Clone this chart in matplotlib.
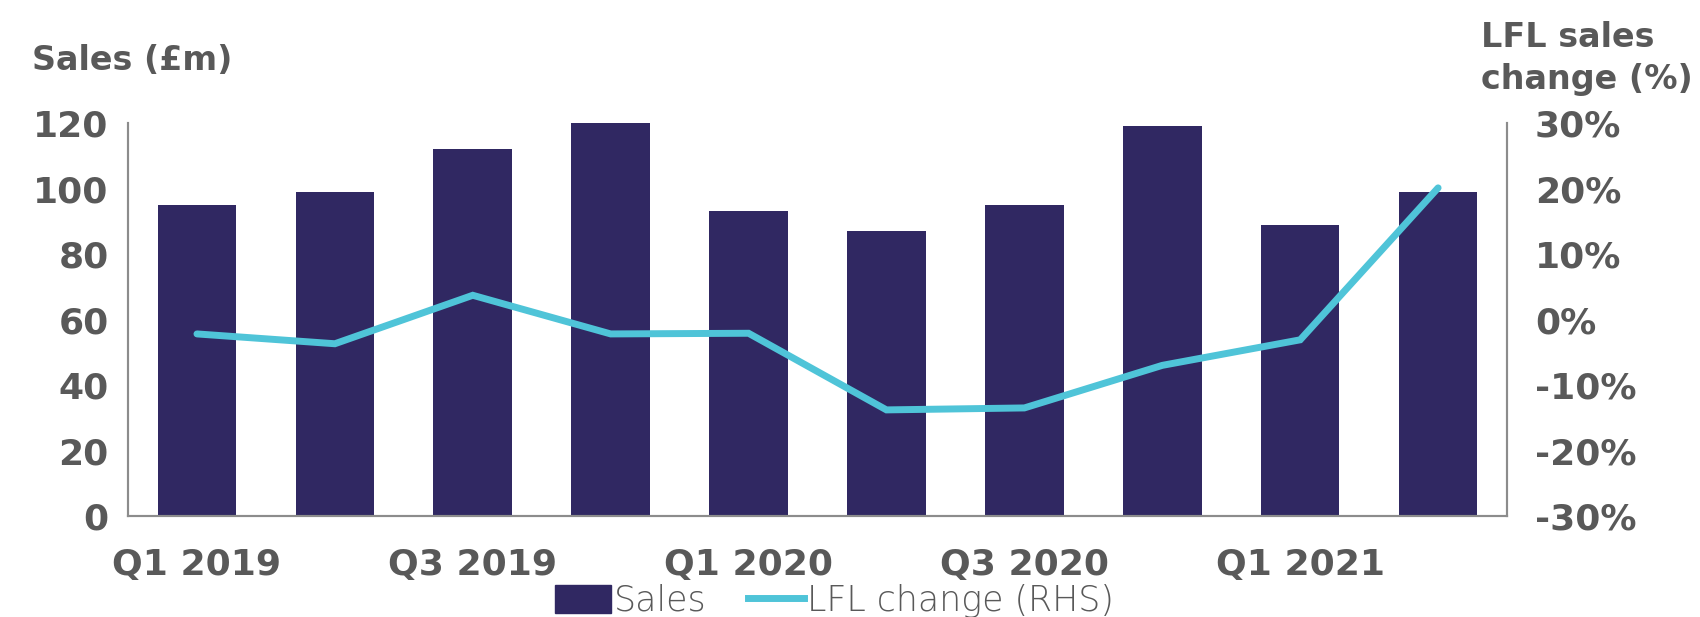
import matplotlib
matplotlib.use('Agg')
import matplotlib.pyplot as plt
from matplotlib.patches import Patch
from matplotlib.lines import Line2D

# ---------------------------------------------------------------------------
QUARTERS = ['Q1 2019', 'Q2 2019', 'Q3 2019', 'Q4 2019', 'Q1 2020',
            'Q2 2020', 'Q3 2020', 'Q4 2020', 'Q1 2021', 'Q2 2021']
SALES    = [95, 99, 112, 120, 93, 87, 95, 119, 89, 99]           # £m
LFL      = [-2.2, -3.7, 3.7, -2.2, -2.1, -13.8, -13.5, -7.0, -3.1, 20.1]  # %
SHOWN    = ['Q1 2019', 'Q3 2019', 'Q1 2020', 'Q3 2020', 'Q1 2021']

BAR_COL  = '#302862'
LINE_COL = '#4fc4d8'
TEXT_COL = '#595959'
AXIS_COL = '#8c8c8c'
# ---------------------------------------------------------------------------

plt.rcParams['font.family'] = ['DejaVu Sans']

fig = plt.figure(figsize=(17, 6.17), dpi=100)
ax = fig.add_axes([0.0753, 0.1637, 0.8112, 0.6369])
ax2 = ax.twinx()

x = list(range(len(QUARTERS)))
ax.bar(x, SALES, width=0.57, color=BAR_COL, zorder=1)
ax2.plot(x, LFL, color=LINE_COL, lw=5, solid_capstyle='round',
         solid_joinstyle='miter')

ax.set_xlim(-0.5, len(QUARTERS) - 0.5)
ax.set_ylim(0, 120)
ax.set_yticks(range(0, 121, 20))
ax2.set_ylim(-30, 30)
ax2.set_yticks(range(-30, 31, 10))
ax2.set_yticklabels([f'{v}%' for v in range(-30, 31, 10)])

ax.set_xticks([QUARTERS.index(q) for q in SHOWN])
ax.set_xticklabels(SHOWN)

for a in (ax, ax2):
    for s in a.spines.values():
        s.set_color(AXIS_COL)
        s.set_linewidth(1.5)
    a.spines['top'].set_visible(False)
    a.tick_params(length=0, labelsize=26, labelcolor=TEXT_COL)
    for lab in a.get_xticklabels() + a.get_yticklabels():
        lab.set_fontweight('bold')
ax.tick_params(axis='y', pad=14)
ax.tick_params(axis='x', pad=23)
ax2.tick_params(axis='y', pad=20)

fig.text(0.019, 0.902, 'Sales (£m)', fontsize=24, fontweight='bold',
         color=TEXT_COL, va='center', ha='left')
fig.text(0.871, 0.905, 'LFL sales\nchange (%)', fontsize=24, fontweight='bold',
         color=TEXT_COL, va='center', ha='left', linespacing=1.35)

handles = [Patch(color=BAR_COL), Line2D([], [], color=LINE_COL, lw=5)]
fig.legend(handles, ['Sales', 'LFL change (RHS)'], loc='center',
           bbox_to_anchor=(0.491, 0.026), ncol=2, frameon=False,
           prop={'size': 25, 'weight': 'light'}, labelcolor=TEXT_COL,
           handlelength=1.6, handletextpad=0.1, columnspacing=1.2,
           handleheight=0.9)

fig.savefig('out.png', dpi=100)
